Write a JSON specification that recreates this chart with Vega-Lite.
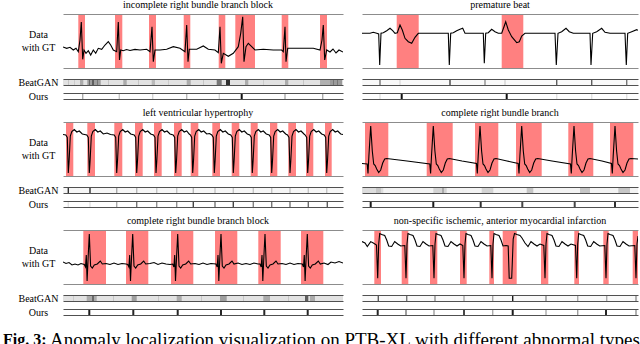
{
"$schema":"https://vega.github.io/schema/vega-lite/v6.json",
"background":"white",
"padding":{"left":3,"top":0,"right":0,"bottom":0},
"config":{"view":{"stroke":null},"font":"Liberation Serif",
 "title":{"font":"Liberation Serif","fontSize":10,"fontWeight":"normal","color":"#000000","offset":4,"anchor":"middle"},
 "axis":{"titleFont":"Liberation Serif","titleFontSize":10,"titleFontWeight":"normal","titleColor":"#000000","titleAngle":0,"titleAlign":"center","titleBaseline":"middle","titleLineHeight":13}},
"datasets":{
"ecg":[
{"p":1,"t":0,"v":21},{"p":1,"t":3.7,"v":19.7},{"p":1,"t":7,"v":20.7},{"p":1,"t":10.3,"v":18},{"p":1,"t":13,"v":19.7},{"p":1,"t":15.3,"v":16.3},{"p":1,"t":17,"v":28},{"p":1,"t":18.3,"v":46},{"p":1,"t":19.7,"v":8.7},{"p":1,"t":21,"v":18},{"p":1,"t":23,"v":14.7},{"p":1,"t":25.3,"v":17.3},{"p":1,"t":27.7,"v":13},{"p":1,"t":30.3,"v":18},{"p":1,"t":32.7,"v":14.7},{"p":1,"t":35.3,"v":19.7},{"p":1,"t":38.7,"v":18.7},{"p":1,"t":42,"v":23},{"p":1,"t":45.3,"v":26.3},{"p":1,"t":47.7,"v":23},{"p":1,"t":50.3,"v":18},{"p":1,"t":53.7,"v":16.3},{"p":1,"t":55.3,"v":46},{"p":1,"t":56.5,"v":8},{"p":1,"t":57.7,"v":18},{"p":1,"t":60.3,"v":17.3},{"p":1,"t":63.5,"v":18.5},{"p":1,"t":67,"v":17.5},{"p":1,"t":72,"v":18.6},{"p":1,"t":77,"v":18},{"p":1,"t":83.7,"v":18.7},{"p":1,"t":87,"v":16.3},{"p":1,"t":89,"v":41.3},{"p":1,"t":90.3,"v":6.3},{"p":1,"t":92,"v":18},{"p":1,"t":97,"v":18},{"p":1,"t":103.7,"v":18.7},{"p":1,"t":110.3,"v":21.3},{"p":1,"t":117,"v":19.7},{"p":1,"t":122,"v":16.3},{"p":1,"t":123.7,"v":43},{"p":1,"t":125,"v":6.3},{"p":1,"t":126.3,"v":18.7},{"p":1,"t":133.7,"v":18.7},{"p":1,"t":140.3,"v":22},{"p":1,"t":145.3,"v":18.7},{"p":1,"t":152,"v":18},{"p":1,"t":155.3,"v":15.3},{"p":1,"t":157,"v":41.3},{"p":1,"t":158.3,"v":4.7},{"p":1,"t":160.3,"v":14.7},{"p":1,"t":165.3,"v":11.7},{"p":1,"t":170.3,"v":14.7},{"p":1,"t":175.3,"v":21.3},{"p":1,"t":177.7,"v":34.7},{"p":1,"t":179.7,"v":51.3},{"p":1,"t":181,"v":6.3},{"p":1,"t":183,"v":21.3},{"p":1,"t":185.3,"v":24.7},{"p":1,"t":188.7,"v":21.3},{"p":1,"t":192,"v":18},{"p":1,"t":200.3,"v":18.7},{"p":1,"t":210.3,"v":18},{"p":1,"t":218.7,"v":18},{"p":1,"t":220.3,"v":16.3},{"p":1,"t":222,"v":41.3},{"p":1,"t":223,"v":6.3},{"p":1,"t":224.7,"v":19.7},{"p":1,"t":230.3,"v":19.7},{"p":1,"t":240.3,"v":19.7},{"p":1,"t":250.3,"v":19.7},{"p":1,"t":257,"v":18},{"p":1,"t":259,"v":28},{"p":1,"t":260.3,"v":43},{"p":1,"t":261.7,"v":8},{"p":1,"t":263.7,"v":18},{"p":1,"t":267,"v":16},{"p":1,"t":270,"v":19},{"p":1,"t":273,"v":15},{"p":1,"t":276,"v":18},{"p":1,"t":280,"v":16},
{"p":2,"t":0,"v":34.7},{"p":2,"t":8,"v":34.7},{"p":2,"t":11.3,"v":35.7},{"p":2,"t":14.7,"v":34.7},{"p":2,"t":16.7,"v":34},{"p":2,"t":17.7,"v":3},{"p":2,"t":19,"v":34.7},{"p":2,"t":21.3,"v":35.3},{"p":2,"t":24.7,"v":37.3},{"p":2,"t":28,"v":39.7},{"p":2,"t":30.7,"v":37.3},{"p":2,"t":33,"v":34.7},{"p":2,"t":35.3,"v":35.3},{"p":2,"t":38,"v":43},{"p":2,"t":40.3,"v":38},{"p":2,"t":43,"v":29.7},{"p":2,"t":46.3,"v":26.3},{"p":2,"t":49.7,"v":24.7},{"p":2,"t":53,"v":30.7},{"p":2,"t":56.3,"v":34.7},{"p":2,"t":68,"v":34.7},{"p":2,"t":81.3,"v":34.7},{"p":2,"t":86.3,"v":34.7},{"p":2,"t":87.3,"v":3},{"p":2,"t":88.7,"v":34.7},{"p":2,"t":91.3,"v":35.3},{"p":2,"t":94.7,"v":37.3},{"p":2,"t":98,"v":38.7},{"p":2,"t":100.7,"v":39.7},{"p":2,"t":103,"v":34.7},{"p":2,"t":114.7,"v":34.7},{"p":2,"t":121.3,"v":34.7},{"p":2,"t":122.3,"v":4.7},{"p":2,"t":123.7,"v":34.7},{"p":2,"t":126.3,"v":35.3},{"p":2,"t":129.7,"v":38.7},{"p":2,"t":133,"v":36.3},{"p":2,"t":136.3,"v":34.7},{"p":2,"t":139.7,"v":34.7},{"p":2,"t":142,"v":41.3},{"p":2,"t":143.7,"v":46.3},{"p":2,"t":146.3,"v":38},{"p":2,"t":149.7,"v":31.3},{"p":2,"t":154.7,"v":25.3},{"p":2,"t":157.3,"v":26.3},{"p":2,"t":159.7,"v":32},{"p":2,"t":163,"v":34.7},{"p":2,"t":178,"v":34.7},{"p":2,"t":193,"v":34.7},{"p":2,"t":194.3,"v":3},{"p":2,"t":196,"v":34.7},{"p":2,"t":199.7,"v":36.3},{"p":2,"t":204,"v":39.7},{"p":2,"t":207.3,"v":36.3},{"p":2,"t":211.3,"v":34.7},{"p":2,"t":228,"v":34.7},{"p":2,"t":229,"v":3},{"p":2,"t":230.7,"v":34.7},{"p":2,"t":234.7,"v":36.3},{"p":2,"t":239.7,"v":39.7},{"p":2,"t":243,"v":35.7},{"p":2,"t":248,"v":34.7},{"p":2,"t":263,"v":34.7},{"p":2,"t":264.3,"v":3},{"p":2,"t":265.7,"v":34.7},{"p":2,"t":269.7,"v":36.3},{"p":2,"t":274.7,"v":38.3},{"p":2,"t":276,"v":37.7},
{"p":3,"t":0,"v":41.5},{"p":3,"t":2.8,"v":41},{"p":3,"t":4.3,"v":38.5},{"p":3,"t":5.3,"v":3},{"p":3,"t":6.1,"v":15},{"p":3,"t":7.3,"v":40},{"p":3,"t":8.8,"v":44.5},{"p":3,"t":11.3,"v":46.5},{"p":3,"t":13.8,"v":44},{"p":3,"t":16.3,"v":45},{"p":3,"t":19.3,"v":42},
{"p":3,"t":23.8,"v":41},{"p":3,"t":25.3,"v":38.5},{"p":3,"t":26.3,"v":3},{"p":3,"t":27.1,"v":15},{"p":3,"t":28.3,"v":40},{"p":3,"t":29.8,"v":44.5},{"p":3,"t":32.3,"v":46.5},{"p":3,"t":34.8,"v":44},{"p":3,"t":37.3,"v":45},{"p":3,"t":40.3,"v":42},{"p":3,"t":44,"v":43},{"p":3,"t":47.5,"v":41.5},
{"p":3,"t":51.2,"v":41},{"p":3,"t":52.7,"v":38.5},{"p":3,"t":53.7,"v":3},{"p":3,"t":54.5,"v":15},{"p":3,"t":55.7,"v":40},{"p":3,"t":57.2,"v":44.5},{"p":3,"t":59.7,"v":46.5},{"p":3,"t":62.2,"v":44},{"p":3,"t":64.7,"v":45},{"p":3,"t":67.7,"v":42},
{"p":3,"t":71.2,"v":41},{"p":3,"t":72.7,"v":38.5},{"p":3,"t":73.7,"v":3},{"p":3,"t":74.5,"v":15},{"p":3,"t":75.7,"v":40},{"p":3,"t":77.2,"v":44.5},{"p":3,"t":79.7,"v":46.5},{"p":3,"t":82.2,"v":44},{"p":3,"t":84.7,"v":45},{"p":3,"t":87.7,"v":42},
{"p":3,"t":90.5,"v":41},{"p":3,"t":92,"v":38.5},{"p":3,"t":93,"v":3},{"p":3,"t":93.8,"v":15},{"p":3,"t":95,"v":40},{"p":3,"t":96.5,"v":44.5},{"p":3,"t":99,"v":46.5},{"p":3,"t":101.5,"v":44},{"p":3,"t":104,"v":45},{"p":3,"t":107,"v":42},
{"p":3,"t":110.2,"v":41},{"p":3,"t":111.7,"v":38.5},{"p":3,"t":112.7,"v":3},{"p":3,"t":113.5,"v":15},{"p":3,"t":114.7,"v":40},{"p":3,"t":116.2,"v":44.5},{"p":3,"t":118.7,"v":46.5},{"p":3,"t":121.2,"v":44},{"p":3,"t":123.7,"v":45},{"p":3,"t":126.2,"v":42},
{"p":3,"t":127.5,"v":41},{"p":3,"t":128.7,"v":38.5},{"p":3,"t":129.7,"v":3},{"p":3,"t":130.5,"v":15},{"p":3,"t":131.7,"v":40},{"p":3,"t":133.2,"v":44.5},{"p":3,"t":135.7,"v":46.5},{"p":3,"t":138.2,"v":44},{"p":3,"t":140.7,"v":45},{"p":3,"t":143.7,"v":42},{"p":3,"t":146.5,"v":42.5},
{"p":3,"t":148.8,"v":41},{"p":3,"t":150.3,"v":38.5},{"p":3,"t":151.3,"v":3},{"p":3,"t":152.1,"v":15},{"p":3,"t":153.3,"v":40},{"p":3,"t":154.8,"v":44.5},{"p":3,"t":157.3,"v":46.5},{"p":3,"t":159.8,"v":44},{"p":3,"t":162.3,"v":45},{"p":3,"t":165.3,"v":42},
{"p":3,"t":167.8,"v":41},{"p":3,"t":169.3,"v":38.5},{"p":3,"t":170.3,"v":3},{"p":3,"t":171.1,"v":15},{"p":3,"t":172.3,"v":40},{"p":3,"t":173.8,"v":44.5},{"p":3,"t":176.3,"v":46.5},{"p":3,"t":178.8,"v":44},{"p":3,"t":181.3,"v":45},{"p":3,"t":184.3,"v":42},
{"p":3,"t":186.8,"v":41},{"p":3,"t":188.3,"v":38.5},{"p":3,"t":189.3,"v":3},{"p":3,"t":190.1,"v":15},{"p":3,"t":191.3,"v":40},{"p":3,"t":192.8,"v":44.5},{"p":3,"t":195.3,"v":46.5},{"p":3,"t":197.8,"v":44},{"p":3,"t":200.3,"v":45},{"p":3,"t":203.3,"v":42},
{"p":3,"t":206.2,"v":41},{"p":3,"t":207.7,"v":38.5},{"p":3,"t":208.7,"v":3},{"p":3,"t":209.5,"v":15},{"p":3,"t":210.7,"v":40},{"p":3,"t":212.2,"v":44.5},{"p":3,"t":214.7,"v":46.5},{"p":3,"t":217.2,"v":44},{"p":3,"t":219.7,"v":45},{"p":3,"t":222.7,"v":42},
{"p":3,"t":224.5,"v":41},{"p":3,"t":226,"v":38.5},{"p":3,"t":227,"v":3},{"p":3,"t":227.8,"v":15},{"p":3,"t":229,"v":40},{"p":3,"t":230.5,"v":44.5},{"p":3,"t":233,"v":46.5},{"p":3,"t":235.5,"v":44},{"p":3,"t":238,"v":45},{"p":3,"t":241,"v":42},
{"p":3,"t":242.2,"v":41},{"p":3,"t":243.7,"v":38.5},{"p":3,"t":244.7,"v":3},{"p":3,"t":245.5,"v":15},{"p":3,"t":246.7,"v":40},{"p":3,"t":248.2,"v":44.5},{"p":3,"t":250.7,"v":46.5},{"p":3,"t":253.2,"v":44},{"p":3,"t":255.7,"v":45},{"p":3,"t":258.7,"v":42},
{"p":3,"t":261.2,"v":41},{"p":3,"t":262.7,"v":38.5},{"p":3,"t":263.7,"v":3},{"p":3,"t":264.5,"v":15},{"p":3,"t":265.7,"v":40},{"p":3,"t":267.2,"v":44.5},{"p":3,"t":269.7,"v":46.5},{"p":3,"t":272.2,"v":44},{"p":3,"t":274.7,"v":45},{"p":3,"t":277.7,"v":42},{"p":3,"t":280,"v":41.5},
{"p":4,"t":0,"v":12.5},{"p":4,"t":5.2,"v":12},{"p":4,"t":6,"v":2.5},{"p":4,"t":6.9,"v":20},{"p":4,"t":8.7,"v":50},{"p":4,"t":10.3,"v":25},{"p":4,"t":11.7,"v":12},{"p":4,"t":13.2,"v":10.5},{"p":4,"t":14.7,"v":7},{"p":4,"t":16.7,"v":3.5},{"p":4,"t":18.7,"v":6},{"p":4,"t":20.7,"v":13},{"p":4,"t":22.7,"v":17},{"p":4,"t":24.7,"v":17.5},{"p":4,"t":45,"v":15},{"p":4,"t":67.8,"v":12},
{"p":4,"t":68.6,"v":2.5},{"p":4,"t":69.5,"v":20},{"p":4,"t":71.3,"v":50},{"p":4,"t":72.9,"v":25},{"p":4,"t":74.3,"v":12},{"p":4,"t":75.8,"v":10.5},{"p":4,"t":77.3,"v":7},{"p":4,"t":79.3,"v":3.5},{"p":4,"t":81.3,"v":6},{"p":4,"t":83.3,"v":13},{"p":4,"t":85.3,"v":17},{"p":4,"t":87.3,"v":17.5},{"p":4,"t":100,"v":15},{"p":4,"t":114.5,"v":12.5},
{"p":4,"t":115.3,"v":2.5},{"p":4,"t":116.2,"v":20},{"p":4,"t":118,"v":50},{"p":4,"t":119.6,"v":25},{"p":4,"t":121,"v":12},{"p":4,"t":122.5,"v":10.5},{"p":4,"t":124,"v":7},{"p":4,"t":126,"v":3.5},{"p":4,"t":128,"v":6},{"p":4,"t":130,"v":13},{"p":4,"t":132,"v":17},{"p":4,"t":134,"v":17.5},{"p":4,"t":145,"v":15},{"p":4,"t":156.2,"v":12.5},
{"p":4,"t":157,"v":2.5},{"p":4,"t":157.9,"v":20},{"p":4,"t":159.7,"v":50},{"p":4,"t":161.3,"v":25},{"p":4,"t":162.7,"v":12},{"p":4,"t":164.2,"v":10.5},{"p":4,"t":165.7,"v":7},{"p":4,"t":167.7,"v":3.5},{"p":4,"t":169.7,"v":6},{"p":4,"t":171.7,"v":13},{"p":4,"t":173.7,"v":17},{"p":4,"t":175.7,"v":17.5},{"p":4,"t":190,"v":15},{"p":4,"t":208.5,"v":12},
{"p":4,"t":209.3,"v":2.5},{"p":4,"t":210.2,"v":20},{"p":4,"t":212,"v":50},{"p":4,"t":213.6,"v":25},{"p":4,"t":215,"v":12},{"p":4,"t":216.5,"v":10.5},{"p":4,"t":218,"v":7},{"p":4,"t":220,"v":3.5},{"p":4,"t":222,"v":6},{"p":4,"t":224,"v":13},{"p":4,"t":226,"v":17},{"p":4,"t":228,"v":17.5},{"p":4,"t":240,"v":15},{"p":4,"t":249.5,"v":12.5},
{"p":4,"t":250.3,"v":2.5},{"p":4,"t":251.2,"v":20},{"p":4,"t":253,"v":50},{"p":4,"t":254.6,"v":25},{"p":4,"t":256,"v":12},{"p":4,"t":257.5,"v":10.5},{"p":4,"t":259,"v":7},{"p":4,"t":261,"v":3.5},{"p":4,"t":263,"v":6},{"p":4,"t":265,"v":13},{"p":4,"t":267,"v":17},{"p":4,"t":269,"v":17.5},{"p":4,"t":276,"v":17},
{"p":5,"t":0,"v":22},{"p":5,"t":3,"v":20.5},{"p":5,"t":6,"v":21.5},{"p":5,"t":9,"v":19},{"p":5,"t":12,"v":20},{"p":5,"t":15,"v":19},{"p":5,"t":18,"v":20.5},{"p":5,"t":21.3,"v":19.5},{"p":5,"t":22.5,"v":17},{"p":5,"t":23.3,"v":29},{"p":5,"t":24.1,"v":3},{"p":5,"t":25.3,"v":30},{"p":5,"t":26.3,"v":50},{"p":5,"t":27.6,"v":18},{"p":5,"t":29.3,"v":16},{"p":5,"t":31.3,"v":19},{"p":5,"t":34.3,"v":20},{"p":5,"t":37.3,"v":23},{"p":5,"t":39.3,"v":20},{"p":5,"t":43,"v":20.5},{"p":5,"t":47,"v":19.5},{"p":5,"t":51,"v":21},{"p":5,"t":55,"v":19.5},{"p":5,"t":59,"v":20.5},{"p":5,"t":63,"v":20},
{"p":5,"t":64.7,"v":19.5},{"p":5,"t":65.9,"v":17},{"p":5,"t":66.7,"v":29},{"p":5,"t":67.5,"v":3},{"p":5,"t":68.7,"v":30},{"p":5,"t":69.7,"v":50},{"p":5,"t":71,"v":18},{"p":5,"t":72.7,"v":16},{"p":5,"t":74.7,"v":19},{"p":5,"t":77.7,"v":20},{"p":5,"t":80.7,"v":23},{"p":5,"t":82.7,"v":20},{"p":5,"t":87,"v":20.5},{"p":5,"t":91,"v":21.5},{"p":5,"t":95,"v":19.5},{"p":5,"t":99,"v":21},{"p":5,"t":103,"v":20},{"p":5,"t":107,"v":19.5},
{"p":5,"t":109.7,"v":20},{"p":5,"t":110.9,"v":17},{"p":5,"t":111.7,"v":29},{"p":5,"t":112.5,"v":3},{"p":5,"t":113.7,"v":30},{"p":5,"t":114.7,"v":50},{"p":5,"t":116,"v":18},{"p":5,"t":117.7,"v":16},{"p":5,"t":119.7,"v":19},{"p":5,"t":122.7,"v":20},{"p":5,"t":125.7,"v":23},{"p":5,"t":127.7,"v":20},{"p":5,"t":132,"v":20.5},{"p":5,"t":136,"v":19.5},{"p":5,"t":140,"v":21},{"p":5,"t":144,"v":19.5},{"p":5,"t":148,"v":20.5},
{"p":5,"t":153,"v":20},{"p":5,"t":154.2,"v":17},{"p":5,"t":155,"v":29},{"p":5,"t":155.8,"v":3},{"p":5,"t":157,"v":30},{"p":5,"t":158,"v":50},{"p":5,"t":159.3,"v":18},{"p":5,"t":161,"v":16},{"p":5,"t":163,"v":19},{"p":5,"t":166,"v":20},{"p":5,"t":169,"v":23},{"p":5,"t":171,"v":20},{"p":5,"t":175,"v":21},{"p":5,"t":179,"v":19.5},{"p":5,"t":183,"v":20.5},{"p":5,"t":187,"v":19.5},{"p":5,"t":191,"v":21},{"p":5,"t":195,"v":20},
{"p":5,"t":197,"v":20},{"p":5,"t":198.2,"v":17},{"p":5,"t":199,"v":29},{"p":5,"t":199.8,"v":3},{"p":5,"t":201,"v":30},{"p":5,"t":202,"v":50},{"p":5,"t":203.3,"v":18},{"p":5,"t":205,"v":16},{"p":5,"t":207,"v":19},{"p":5,"t":210,"v":20},{"p":5,"t":213,"v":23},{"p":5,"t":215,"v":20},{"p":5,"t":219,"v":20.5},{"p":5,"t":223,"v":19.5},{"p":5,"t":227,"v":21},{"p":5,"t":231,"v":19.5},{"p":5,"t":235,"v":20.5},
{"p":5,"t":239.3,"v":20},{"p":5,"t":240.5,"v":17},{"p":5,"t":241.3,"v":29},{"p":5,"t":242.1,"v":3},{"p":5,"t":243.3,"v":30},{"p":5,"t":244.3,"v":50},{"p":5,"t":245.6,"v":18},{"p":5,"t":247.3,"v":16},{"p":5,"t":249.3,"v":19},{"p":5,"t":252.3,"v":20},{"p":5,"t":255.3,"v":23},{"p":5,"t":257.3,"v":20},{"p":5,"t":261,"v":21},{"p":5,"t":265,"v":19.5},{"p":5,"t":268,"v":22},{"p":5,"t":272,"v":21},{"p":5,"t":276,"v":22.5},{"p":5,"t":280,"v":21},
{"p":6,"t":0,"v":42.4},{"p":6,"t":3,"v":41},{"p":6,"t":5.3,"v":37.4},{"p":6,"t":8.7,"v":42.4},{"p":6,"t":11.3,"v":41},{"p":6,"t":14.5,"v":39},{"p":6,"t":15.7,"v":5.7},{"p":6,"t":16.7,"v":40},{"p":6,"t":17.7,"v":50.5},{"p":6,"t":19.7,"v":49.5},{"p":6,"t":22.7,"v":48.5},{"p":6,"t":24.7,"v":44},{"p":6,"t":26.7,"v":38},{"p":6,"t":29.7,"v":37.5},{"p":6,"t":32.7,"v":42.5},{"p":6,"t":35.7,"v":40},{"p":6,"t":38.7,"v":38},
{"p":6,"t":42.8,"v":38.5},{"p":6,"t":44,"v":5.7},{"p":6,"t":45,"v":40},{"p":6,"t":46,"v":50.5},{"p":6,"t":48,"v":49.5},{"p":6,"t":51,"v":48.5},{"p":6,"t":53,"v":44},{"p":6,"t":55,"v":38},{"p":6,"t":58,"v":37.5},{"p":6,"t":61,"v":42.5},{"p":6,"t":64,"v":40},{"p":6,"t":67,"v":38},
{"p":6,"t":70.8,"v":38.5},{"p":6,"t":72,"v":5.7},{"p":6,"t":73,"v":40},{"p":6,"t":74,"v":50.5},{"p":6,"t":76,"v":49.5},{"p":6,"t":79,"v":48.5},{"p":6,"t":81,"v":44},{"p":6,"t":83,"v":38},{"p":6,"t":86,"v":37.5},{"p":6,"t":89,"v":42.5},{"p":6,"t":92,"v":40},{"p":6,"t":95,"v":38},{"p":6,"t":98,"v":40},
{"p":6,"t":100.8,"v":38.5},{"p":6,"t":102,"v":5.7},{"p":6,"t":103,"v":40},{"p":6,"t":104,"v":50.5},{"p":6,"t":106,"v":49.5},{"p":6,"t":109,"v":48.5},{"p":6,"t":111,"v":44},{"p":6,"t":113,"v":38},{"p":6,"t":116,"v":37.5},{"p":6,"t":119,"v":42.5},{"p":6,"t":122,"v":40},{"p":6,"t":125,"v":38},
{"p":6,"t":128.8,"v":38.5},{"p":6,"t":130,"v":5.7},{"p":6,"t":131,"v":40},{"p":6,"t":132,"v":50.5},{"p":6,"t":134,"v":49.5},{"p":6,"t":137,"v":48.5},{"p":6,"t":139,"v":44},{"p":6,"t":141,"v":38},{"p":6,"t":144,"v":38.5},
{"p":6,"t":146.2,"v":38},{"p":6,"t":147.2,"v":5.7},{"p":6,"t":149.7,"v":5.7},{"p":6,"t":151.2,"v":45},{"p":6,"t":152.5,"v":50.5},{"p":6,"t":155,"v":49.5},{"p":6,"t":158,"v":48.5},{"p":6,"t":160,"v":46},{"p":6,"t":163,"v":41},{"p":6,"t":166,"v":37.5},{"p":6,"t":169,"v":42.5},{"p":6,"t":172,"v":40},{"p":6,"t":175,"v":38},{"p":6,"t":178,"v":40},
{"p":6,"t":181.8,"v":38.5},{"p":6,"t":183,"v":5.7},{"p":6,"t":184,"v":40},{"p":6,"t":185,"v":50.5},{"p":6,"t":187,"v":49.5},{"p":6,"t":190,"v":48.5},{"p":6,"t":192,"v":44},{"p":6,"t":194,"v":38},{"p":6,"t":197,"v":37.5},{"p":6,"t":200,"v":42.5},{"p":6,"t":203,"v":40},{"p":6,"t":206,"v":38},{"p":6,"t":209,"v":40},
{"p":6,"t":213.5,"v":38.5},{"p":6,"t":214.7,"v":5.7},{"p":6,"t":215.7,"v":40},{"p":6,"t":216.7,"v":50.5},{"p":6,"t":218.7,"v":49.5},{"p":6,"t":221.7,"v":48.5},{"p":6,"t":223.7,"v":44},{"p":6,"t":225.7,"v":38},{"p":6,"t":228.7,"v":37.5},{"p":6,"t":231.7,"v":42.5},{"p":6,"t":234.7,"v":40},{"p":6,"t":237.7,"v":38},
{"p":6,"t":242.8,"v":38.5},{"p":6,"t":244,"v":5.7},{"p":6,"t":245,"v":40},{"p":6,"t":246,"v":50.5},{"p":6,"t":248,"v":49.5},{"p":6,"t":251,"v":48.5},{"p":6,"t":253,"v":44},{"p":6,"t":255,"v":38},{"p":6,"t":258,"v":37.5},{"p":6,"t":261,"v":42.5},{"p":6,"t":264,"v":40},{"p":6,"t":267,"v":38},
{"p":6,"t":272.8,"v":38.5},{"p":6,"t":274,"v":5.7},{"p":6,"t":275,"v":40},{"p":6,"t":276,"v":48}
],
"gt":[
{"p":1,"a":15.3,"b":22},{"p":1,"a":52,"b":59.3},{"p":1,"a":86,"b":93},{"p":1,"a":120.7,"b":127.3},{"p":1,"a":155.7,"b":162.3},{"p":1,"a":172.3,"b":192},{"p":1,"a":218.7,"b":225.3},{"p":1,"a":257,"b":264},
{"p":2,"a":34.7,"b":56.7},{"p":2,"a":139.7,"b":161.3},
{"p":3,"a":3,"b":10.3},{"p":3,"a":24.3,"b":32},{"p":3,"a":51.3,"b":59.3},{"p":3,"a":72,"b":79.7},{"p":3,"a":91,"b":98.7},{"p":3,"a":111,"b":118.7},{"p":3,"a":127.7,"b":135.3},{"p":3,"a":149.3,"b":157},{"p":3,"a":168.7,"b":176.3},{"p":3,"a":187.7,"b":194.7},{"p":3,"a":207,"b":214.3},{"p":3,"a":225.3,"b":233},{"p":3,"a":243,"b":250.3},{"p":3,"a":262,"b":268.7},
{"p":4,"a":3,"b":26.3},{"p":4,"a":64.7,"b":90.7},{"p":4,"a":113,"b":136.3},{"p":4,"a":154,"b":179.7},{"p":4,"a":206.3,"b":231.3},{"p":4,"a":248,"b":271.3},
{"p":5,"a":20.3,"b":43},{"p":5,"a":63,"b":85.3},{"p":5,"a":108,"b":130.3},{"p":5,"a":152,"b":174.3},{"p":5,"a":195.3,"b":217.7},{"p":5,"a":238,"b":260.3},
{"p":6,"a":12.3,"b":19},{"p":6,"a":39.7,"b":46.3},{"p":6,"a":68,"b":75.3},{"p":6,"a":98,"b":104.7},{"p":6,"a":127.3,"b":132},{"p":6,"a":140.7,"b":154.7},{"p":6,"a":179,"b":186.3},{"p":6,"a":212.3,"b":217},{"p":6,"a":241.3,"b":246.7},{"p":6,"a":270.7,"b":276}
],
"bg":[
{"p":1,"a":0,"b":280,"v":0.1},{"p":1,"a":5,"b":6,"v":0.2},{"p":1,"a":11,"b":12,"v":0.18},{"p":1,"a":17,"b":20.3,"v":0.3},{"p":1,"a":24.3,"b":37.7,"v":0.35},{"p":1,"a":26,"b":27,"v":0.55},{"p":1,"a":29,"b":31,"v":0.6},{"p":1,"a":34,"b":35,"v":0.5},{"p":1,"a":45,"b":46,"v":0.2},{"p":1,"a":60.3,"b":63.7,"v":0.3},{"p":1,"a":75,"b":76,"v":0.2},{"p":1,"a":88.7,"b":92,"v":0.25},{"p":1,"a":105,"b":106,"v":0.18},{"p":1,"a":123.7,"b":127.7,"v":0.3},{"p":1,"a":140,"b":141,"v":0.2},{"p":1,"a":153.7,"b":158.7,"v":0.5},{"p":1,"a":163,"b":167,"v":0.8},{"p":1,"a":182,"b":185.3,"v":0.3},{"p":1,"a":200,"b":201,"v":0.18},{"p":1,"a":222,"b":225.3,"v":0.3},{"p":1,"a":240,"b":241,"v":0.2},{"p":1,"a":257,"b":267,"v":0.28},{"p":1,"a":267,"b":279,"v":0.36},{"p":1,"a":270,"b":271,"v":0.5},{"p":1,"a":274,"b":275,"v":0.5},
{"p":2,"a":0,"b":276,"v":0.02},{"p":2,"a":17.3,"b":18.7,"v":0.5},{"p":2,"a":37.3,"b":38.7,"v":0.12},{"p":2,"a":87.3,"b":88.7,"v":0.7},{"p":2,"a":122.3,"b":123.7,"v":0.4},{"p":2,"a":142.3,"b":143.7,"v":0.15},{"p":2,"a":194,"b":195.4,"v":0.6},{"p":2,"a":229,"b":230.4,"v":0.6},{"p":2,"a":264,"b":265.4,"v":0.5},
{"p":3,"a":0,"b":280,"v":0.03},{"p":3,"a":4.6,"b":6,"v":0.8},{"p":3,"a":26.3,"b":27.7,"v":0.8},{"p":3,"a":53,"b":54.4,"v":0.3},{"p":3,"a":73,"b":74.4,"v":0.25},{"p":3,"a":93,"b":94.4,"v":0.2},{"p":3,"a":113,"b":114.4,"v":0.2},{"p":3,"a":129.6,"b":131,"v":0.25},{"p":3,"a":151.3,"b":152.7,"v":0.2},{"p":3,"a":169.6,"b":171,"v":0.2},{"p":3,"a":189.6,"b":191,"v":0.2},{"p":3,"a":208,"b":209.4,"v":0.2},{"p":3,"a":226.3,"b":227.7,"v":0.2},{"p":3,"a":244.6,"b":246,"v":0.2},{"p":3,"a":263,"b":264.4,"v":0.2},
{"p":4,"a":0,"b":276,"v":0.04},{"p":4,"a":0,"b":21.3,"v":0.12},{"p":4,"a":14,"b":19,"v":0.2},{"p":4,"a":71.3,"b":84.7,"v":0.15},{"p":4,"a":80,"b":82,"v":0.3},{"p":4,"a":119.7,"b":131.3,"v":0.15},{"p":4,"a":164.7,"b":171.3,"v":0.2},{"p":4,"a":218,"b":228,"v":0.2},{"p":4,"a":256.3,"b":268,"v":0.2},
{"p":5,"a":0,"b":280,"v":0.1},{"p":5,"a":10,"b":11,"v":0.18},{"p":5,"a":23.7,"b":33.7,"v":0.3},{"p":5,"a":29,"b":31,"v":0.55},{"p":5,"a":50,"b":51,"v":0.2},{"p":5,"a":68.7,"b":73.7,"v":0.35},{"p":5,"a":95,"b":96,"v":0.2},{"p":5,"a":113.7,"b":118.7,"v":0.3},{"p":5,"a":138,"b":139,"v":0.2},{"p":5,"a":157,"b":163.7,"v":0.35},{"p":5,"a":180,"b":181,"v":0.2},{"p":5,"a":200.3,"b":207,"v":0.3},{"p":5,"a":225,"b":226,"v":0.2},{"p":5,"a":242,"b":245.3,"v":0.6},{"p":5,"a":247,"b":252,"v":0.3},
{"p":6,"a":0,"b":276,"v":0.02},{"p":6,"a":15.6,"b":17,"v":0.6},{"p":6,"a":44,"b":45.4,"v":0.5},{"p":6,"a":72.3,"b":73.7,"v":0.4},{"p":6,"a":101.3,"b":102.7,"v":0.3},{"p":6,"a":130,"b":131.4,"v":0.3},{"p":6,"a":150,"b":151.4,"v":0.9},{"p":6,"a":183.3,"b":184.7,"v":0.4},{"p":6,"a":215,"b":216.4,"v":0.3},{"p":6,"a":244,"b":245.4,"v":0.3},{"p":6,"a":273.3,"b":274.7,"v":0.4}
],
"ours":[
{"p":1,"a":19,"b":20.4,"v":0.3},{"p":1,"a":55.6,"b":57,"v":0.2},{"p":1,"a":89,"b":90.4,"v":0.15},{"p":1,"a":123,"b":124.4,"v":0.25},{"p":1,"a":155.6,"b":157,"v":0.15},{"p":1,"a":177.7,"b":179.7,"v":0.95},{"p":1,"a":221.3,"b":222.7,"v":0.3},{"p":1,"a":259,"b":260.4,"v":0.3},
{"p":2,"a":17.3,"b":18.7,"v":0.1},{"p":2,"a":38.7,"b":40.7,"v":0.95},{"p":2,"a":143.7,"b":145.7,"v":0.95},{"p":2,"a":194,"b":195.4,"v":0.1},{"p":2,"a":229,"b":230.4,"v":0.1},{"p":2,"a":264,"b":265.4,"v":0.1},
{"p":3,"a":4.6,"b":6,"v":0.1},{"p":3,"a":26.3,"b":27.7,"v":0.1},{"p":3,"a":53,"b":54.4,"v":0.3},{"p":3,"a":73,"b":74.4,"v":0.5},{"p":3,"a":93,"b":94.4,"v":0.4},{"p":3,"a":113,"b":114.4,"v":0.4},{"p":3,"a":129.6,"b":131,"v":0.7},{"p":3,"a":151.3,"b":152.7,"v":0.5},{"p":3,"a":169.6,"b":171,"v":0.7},{"p":3,"a":189.6,"b":191,"v":0.45},{"p":3,"a":208,"b":209.4,"v":0.5},{"p":3,"a":226.3,"b":227.7,"v":0.5},{"p":3,"a":244.6,"b":246,"v":0.55},{"p":3,"a":263.6,"b":265,"v":0.6},
{"p":4,"a":7.7,"b":9.7,"v":0.9},{"p":4,"a":70.3,"b":72.3,"v":0.9},{"p":4,"a":117.7,"b":119.7,"v":0.8},{"p":4,"a":159.3,"b":161.3,"v":0.7},{"p":4,"a":211.7,"b":213.7,"v":0.7},{"p":4,"a":252,"b":254,"v":0.8},
{"p":5,"a":25.3,"b":27.3,"v":0.9},{"p":5,"a":69.3,"b":71.3,"v":0.85},{"p":5,"a":113.7,"b":115.7,"v":0.85},{"p":5,"a":157,"b":159,"v":0.85},{"p":5,"a":200.3,"b":202.3,"v":0.85},{"p":5,"a":243.7,"b":245.7,"v":0.85},
{"p":6,"a":14.7,"b":16.7,"v":0.85},{"p":6,"a":43.3,"b":44.7,"v":0.5},{"p":6,"a":71.3,"b":72.7,"v":0.35},{"p":6,"a":101,"b":103,"v":0.7},{"p":6,"a":130,"b":131.4,"v":0.3},{"p":6,"a":149.7,"b":151.7,"v":0.9},{"p":6,"a":183.3,"b":184.7,"v":0.3},{"p":6,"a":215,"b":216.4,"v":0.35},{"p":6,"a":243,"b":245,"v":0.85},{"p":6,"a":273.3,"b":274.7,"v":0.4}
]
},
"title":{"text":"Anomaly localization visualization on PTB-XL with different abnormal types","orient":"bottom","anchor":"start","frame":"group","fontSize":19,"fontWeight":"normal","offset":0,"dx":-13,"dy":-17},
"spacing":7,
"vconcat":[
{"spacing":19,"hconcat":[
 {"bounds":"flush","spacing":11,"vconcat":[
  {"width":280,"height":54,"title":{"text":"incomplete right bundle branch block","dx":-5},"layer":[
   {"data":{"name":"gt"},"transform":[{"filter":"datum.p==1"}],"mark":{"type":"rect","color":"#ff8080"},"encoding":{"x":{"field":"a","type":"quantitative","scale":{"domain":[0,280],"nice":false},"axis":null},"x2":{"field":"b"}}},
   {"data":{"name":"ecg"},"transform":[{"filter":"datum.p==1"}],"mark":{"type":"line","color":"#000000","strokeWidth":1.1,"clip":true},"encoding":{"x":{"field":"t","type":"quantitative","scale":{"domain":[0,280],"nice":false},"axis":null},"y":{"field":"v","type":"quantitative","scale":{"domain":[0,54],"nice":false,"zero":false},"axis":{"values":[0,54],"grid":true,"gridColor":"#8c8c8c","domain":false,"ticks":false,"labels":false,"title":["Data","with GT"],"titleX":-25,"titleY":20.5,"zindex":1}}}}
  ]},
  {"bounds":"flush","spacing":8,"vconcat":[
   {"width":280,"height":6,"data":{"name":"bg"},"transform":[{"filter":"datum.p==1"}],"mark":{"type":"rect"},"encoding":{"x":{"field":"a","type":"quantitative","scale":{"domain":[0,280],"nice":false},"axis":null},"x2":{"field":"b"},"y":{"datum":0,"type":"quantitative","scale":{"domain":[0,1],"nice":false},"axis":{"values":[0,1],"grid":true,"gridColor":"#505050","domain":false,"ticks":false,"labels":false,"title":"BeatGAN","titleX":-25,"titleY":3,"zindex":1}},"y2":{"datum":1},"color":{"field":"v","type":"quantitative","scale":{"domain":[0,1],"range":["#ffffff","#000000"]},"legend":null}}},
   {"width":280,"height":6,"data":{"name":"ours"},"transform":[{"filter":"datum.p==1"}],"mark":{"type":"rect"},"encoding":{"x":{"field":"a","type":"quantitative","scale":{"domain":[0,280],"nice":false},"axis":null},"x2":{"field":"b"},"y":{"datum":0,"type":"quantitative","scale":{"domain":[0,1],"nice":false},"axis":{"values":[0,1],"grid":true,"gridColor":"#505050","domain":false,"ticks":false,"labels":false,"title":"Ours","titleX":-25,"titleY":3,"zindex":1}},"y2":{"datum":1},"color":{"field":"v","type":"quantitative","scale":{"domain":[0,1],"range":["#ffffff","#000000"]},"legend":null}}}
  ]}
 ]},
 {"bounds":"flush","spacing":11,"vconcat":[
  {"width":276,"height":54,"title":{"text":"premature beat"},"layer":[
   {"data":{"name":"gt"},"transform":[{"filter":"datum.p==2"}],"mark":{"type":"rect","color":"#ff8080"},"encoding":{"x":{"field":"a","type":"quantitative","scale":{"domain":[0,276],"nice":false},"axis":null},"x2":{"field":"b"}}},
   {"data":{"name":"ecg"},"transform":[{"filter":"datum.p==2"}],"mark":{"type":"line","color":"#000000","strokeWidth":1.1,"clip":true},"encoding":{"x":{"field":"t","type":"quantitative","scale":{"domain":[0,276],"nice":false},"axis":null},"y":{"field":"v","type":"quantitative","scale":{"domain":[0,54],"nice":false,"zero":false},"axis":{"values":[0,54],"grid":true,"gridColor":"#8c8c8c","domain":false,"ticks":false,"labels":false,"title":null,"zindex":1}}}}
  ]},
  {"bounds":"flush","spacing":8,"vconcat":[
   {"width":276,"height":6,"data":{"name":"bg"},"transform":[{"filter":"datum.p==2"}],"mark":{"type":"rect"},"encoding":{"x":{"field":"a","type":"quantitative","scale":{"domain":[0,276],"nice":false},"axis":null},"x2":{"field":"b"},"y":{"datum":0,"type":"quantitative","scale":{"domain":[0,1],"nice":false},"axis":{"values":[0,1],"grid":true,"gridColor":"#505050","domain":false,"ticks":false,"labels":false,"title":null,"zindex":1}},"y2":{"datum":1},"color":{"field":"v","type":"quantitative","scale":{"domain":[0,1],"range":["#ffffff","#000000"]},"legend":null}}},
   {"width":276,"height":6,"data":{"name":"ours"},"transform":[{"filter":"datum.p==2"}],"mark":{"type":"rect"},"encoding":{"x":{"field":"a","type":"quantitative","scale":{"domain":[0,276],"nice":false},"axis":null},"x2":{"field":"b"},"y":{"datum":0,"type":"quantitative","scale":{"domain":[0,1],"nice":false},"axis":{"values":[0,1],"grid":true,"gridColor":"#505050","domain":false,"ticks":false,"labels":false,"title":null,"zindex":1}},"y2":{"datum":1},"color":{"field":"v","type":"quantitative","scale":{"domain":[0,1],"range":["#ffffff","#000000"]},"legend":null}}}
  ]}
 ]}
]},
{"spacing":19,"hconcat":[
 {"bounds":"flush","spacing":11,"vconcat":[
  {"width":280,"height":54,"title":{"text":"left ventricular hypertrophy","dx":-5},"layer":[
   {"data":{"name":"gt"},"transform":[{"filter":"datum.p==3"}],"mark":{"type":"rect","color":"#ff8080"},"encoding":{"x":{"field":"a","type":"quantitative","scale":{"domain":[0,280],"nice":false},"axis":null},"x2":{"field":"b"}}},
   {"data":{"name":"ecg"},"transform":[{"filter":"datum.p==3"}],"mark":{"type":"line","color":"#000000","strokeWidth":1.1,"clip":true},"encoding":{"x":{"field":"t","type":"quantitative","scale":{"domain":[0,280],"nice":false},"axis":null},"y":{"field":"v","type":"quantitative","scale":{"domain":[0,54],"nice":false,"zero":false},"axis":{"values":[0,54],"grid":true,"gridColor":"#8c8c8c","domain":false,"ticks":false,"labels":false,"title":["Data","with GT"],"titleX":-25,"titleY":20.5,"zindex":1}}}}
  ]},
  {"bounds":"flush","spacing":8,"vconcat":[
   {"width":280,"height":6,"data":{"name":"bg"},"transform":[{"filter":"datum.p==3"}],"mark":{"type":"rect"},"encoding":{"x":{"field":"a","type":"quantitative","scale":{"domain":[0,280],"nice":false},"axis":null},"x2":{"field":"b"},"y":{"datum":0,"type":"quantitative","scale":{"domain":[0,1],"nice":false},"axis":{"values":[0,1],"grid":true,"gridColor":"#505050","domain":false,"ticks":false,"labels":false,"title":"BeatGAN","titleX":-25,"titleY":3,"zindex":1}},"y2":{"datum":1},"color":{"field":"v","type":"quantitative","scale":{"domain":[0,1],"range":["#ffffff","#000000"]},"legend":null}}},
   {"width":280,"height":6,"data":{"name":"ours"},"transform":[{"filter":"datum.p==3"}],"mark":{"type":"rect"},"encoding":{"x":{"field":"a","type":"quantitative","scale":{"domain":[0,280],"nice":false},"axis":null},"x2":{"field":"b"},"y":{"datum":0,"type":"quantitative","scale":{"domain":[0,1],"nice":false},"axis":{"values":[0,1],"grid":true,"gridColor":"#505050","domain":false,"ticks":false,"labels":false,"title":"Ours","titleX":-25,"titleY":3,"zindex":1}},"y2":{"datum":1},"color":{"field":"v","type":"quantitative","scale":{"domain":[0,1],"range":["#ffffff","#000000"]},"legend":null}}}
  ]}
 ]},
 {"bounds":"flush","spacing":11,"vconcat":[
  {"width":276,"height":54,"title":{"text":"complete right bundle branch"},"layer":[
   {"data":{"name":"gt"},"transform":[{"filter":"datum.p==4"}],"mark":{"type":"rect","color":"#ff8080"},"encoding":{"x":{"field":"a","type":"quantitative","scale":{"domain":[0,276],"nice":false},"axis":null},"x2":{"field":"b"}}},
   {"data":{"name":"ecg"},"transform":[{"filter":"datum.p==4"}],"mark":{"type":"line","color":"#000000","strokeWidth":1.1,"clip":true},"encoding":{"x":{"field":"t","type":"quantitative","scale":{"domain":[0,276],"nice":false},"axis":null},"y":{"field":"v","type":"quantitative","scale":{"domain":[0,54],"nice":false,"zero":false},"axis":{"values":[0,54],"grid":true,"gridColor":"#8c8c8c","domain":false,"ticks":false,"labels":false,"title":null,"zindex":1}}}}
  ]},
  {"bounds":"flush","spacing":8,"vconcat":[
   {"width":276,"height":6,"data":{"name":"bg"},"transform":[{"filter":"datum.p==4"}],"mark":{"type":"rect"},"encoding":{"x":{"field":"a","type":"quantitative","scale":{"domain":[0,276],"nice":false},"axis":null},"x2":{"field":"b"},"y":{"datum":0,"type":"quantitative","scale":{"domain":[0,1],"nice":false},"axis":{"values":[0,1],"grid":true,"gridColor":"#505050","domain":false,"ticks":false,"labels":false,"title":null,"zindex":1}},"y2":{"datum":1},"color":{"field":"v","type":"quantitative","scale":{"domain":[0,1],"range":["#ffffff","#000000"]},"legend":null}}},
   {"width":276,"height":6,"data":{"name":"ours"},"transform":[{"filter":"datum.p==4"}],"mark":{"type":"rect"},"encoding":{"x":{"field":"a","type":"quantitative","scale":{"domain":[0,276],"nice":false},"axis":null},"x2":{"field":"b"},"y":{"datum":0,"type":"quantitative","scale":{"domain":[0,1],"nice":false},"axis":{"values":[0,1],"grid":true,"gridColor":"#505050","domain":false,"ticks":false,"labels":false,"title":null,"zindex":1}},"y2":{"datum":1},"color":{"field":"v","type":"quantitative","scale":{"domain":[0,1],"range":["#ffffff","#000000"]},"legend":null}}}
  ]}
 ]}
]},
{"spacing":19,"title":{"text":"Fig. 3:","orient":"bottom","anchor":"start","frame":"group","fontSize":16,"fontWeight":"bold","offset":15,"dx":-60},"hconcat":[
 {"bounds":"flush","spacing":11,"vconcat":[
  {"width":280,"height":54,"title":{"text":"complete right bundle branch block","dx":-5},"layer":[
   {"data":{"name":"gt"},"transform":[{"filter":"datum.p==5"}],"mark":{"type":"rect","color":"#ff8080"},"encoding":{"x":{"field":"a","type":"quantitative","scale":{"domain":[0,280],"nice":false},"axis":null},"x2":{"field":"b"}}},
   {"data":{"name":"ecg"},"transform":[{"filter":"datum.p==5"}],"mark":{"type":"line","color":"#000000","strokeWidth":1.1,"clip":true},"encoding":{"x":{"field":"t","type":"quantitative","scale":{"domain":[0,280],"nice":false},"axis":null},"y":{"field":"v","type":"quantitative","scale":{"domain":[0,54],"nice":false,"zero":false},"axis":{"values":[0,54],"grid":true,"gridColor":"#8c8c8c","domain":false,"ticks":false,"labels":false,"title":["Data","with GT"],"titleX":-25,"titleY":20.5,"zindex":1}}}}
  ]},
  {"bounds":"flush","spacing":8,"vconcat":[
   {"width":280,"height":6,"data":{"name":"bg"},"transform":[{"filter":"datum.p==5"}],"mark":{"type":"rect"},"encoding":{"x":{"field":"a","type":"quantitative","scale":{"domain":[0,280],"nice":false},"axis":null},"x2":{"field":"b"},"y":{"datum":0,"type":"quantitative","scale":{"domain":[0,1],"nice":false},"axis":{"values":[0,1],"grid":true,"gridColor":"#505050","domain":false,"ticks":false,"labels":false,"title":"BeatGAN","titleX":-25,"titleY":3,"zindex":1}},"y2":{"datum":1},"color":{"field":"v","type":"quantitative","scale":{"domain":[0,1],"range":["#ffffff","#000000"]},"legend":null}}},
   {"width":280,"height":6,"data":{"name":"ours"},"transform":[{"filter":"datum.p==5"}],"mark":{"type":"rect"},"encoding":{"x":{"field":"a","type":"quantitative","scale":{"domain":[0,280],"nice":false},"axis":null},"x2":{"field":"b"},"y":{"datum":0,"type":"quantitative","scale":{"domain":[0,1],"nice":false},"axis":{"values":[0,1],"grid":true,"gridColor":"#505050","domain":false,"ticks":false,"labels":false,"title":"Ours","titleX":-25,"titleY":3,"zindex":1}},"y2":{"datum":1},"color":{"field":"v","type":"quantitative","scale":{"domain":[0,1],"range":["#ffffff","#000000"]},"legend":null}}}
  ]}
 ]},
 {"bounds":"flush","spacing":11,"vconcat":[
  {"width":276,"height":54,"title":{"text":"non-specific ischemic, anterior myocardial infarction"},"layer":[
   {"data":{"name":"gt"},"transform":[{"filter":"datum.p==6"}],"mark":{"type":"rect","color":"#ff8080"},"encoding":{"x":{"field":"a","type":"quantitative","scale":{"domain":[0,276],"nice":false},"axis":null},"x2":{"field":"b"}}},
   {"data":{"name":"ecg"},"transform":[{"filter":"datum.p==6"}],"mark":{"type":"line","color":"#000000","strokeWidth":1.1,"clip":true},"encoding":{"x":{"field":"t","type":"quantitative","scale":{"domain":[0,276],"nice":false},"axis":null},"y":{"field":"v","type":"quantitative","scale":{"domain":[0,54],"nice":false,"zero":false},"axis":{"values":[0,54],"grid":true,"gridColor":"#8c8c8c","domain":false,"ticks":false,"labels":false,"title":null,"zindex":1}}}}
  ]},
  {"bounds":"flush","spacing":8,"vconcat":[
   {"width":276,"height":6,"data":{"name":"bg"},"transform":[{"filter":"datum.p==6"}],"mark":{"type":"rect"},"encoding":{"x":{"field":"a","type":"quantitative","scale":{"domain":[0,276],"nice":false},"axis":null},"x2":{"field":"b"},"y":{"datum":0,"type":"quantitative","scale":{"domain":[0,1],"nice":false},"axis":{"values":[0,1],"grid":true,"gridColor":"#505050","domain":false,"ticks":false,"labels":false,"title":null,"zindex":1}},"y2":{"datum":1},"color":{"field":"v","type":"quantitative","scale":{"domain":[0,1],"range":["#ffffff","#000000"]},"legend":null}}},
   {"width":276,"height":6,"data":{"name":"ours"},"transform":[{"filter":"datum.p==6"}],"mark":{"type":"rect"},"encoding":{"x":{"field":"a","type":"quantitative","scale":{"domain":[0,276],"nice":false},"axis":null},"x2":{"field":"b"},"y":{"datum":0,"type":"quantitative","scale":{"domain":[0,1],"nice":false},"axis":{"values":[0,1],"grid":true,"gridColor":"#505050","domain":false,"ticks":false,"labels":false,"title":null,"zindex":1}},"y2":{"datum":1},"color":{"field":"v","type":"quantitative","scale":{"domain":[0,1],"range":["#ffffff","#000000"]},"legend":null}}}
  ]}
 ]}
]}
]
}
